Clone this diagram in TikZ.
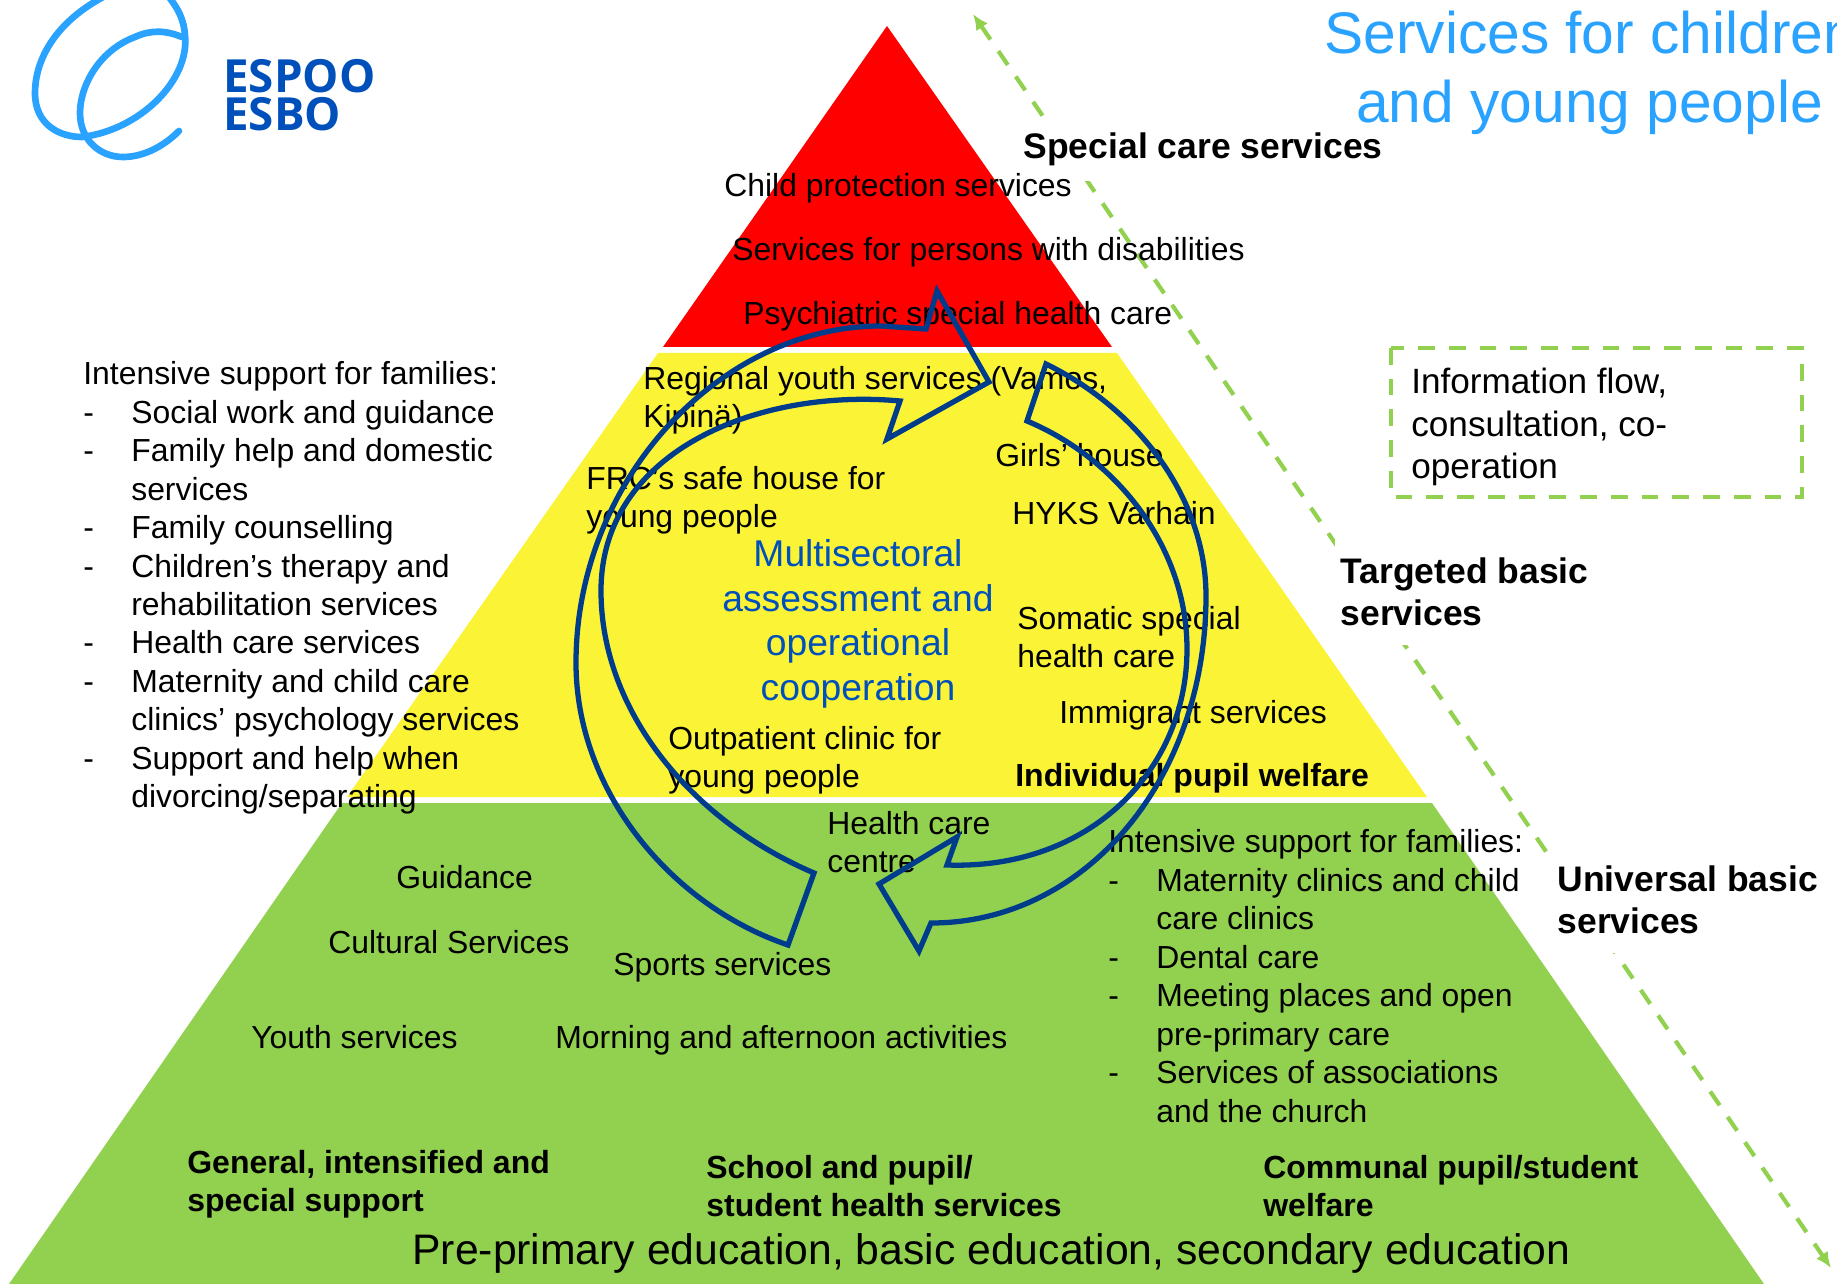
\documentclass[tikz,border=0pt]{standalone}
\usepackage{fontspec}
\setmainfont{Liberation Sans}
\newfontfamily\logofont{Open Sans}
\usetikzlibrary{arrows.meta}
\definecolor{pyrred}{HTML}{FF0000}
\definecolor{pyryellow}{HTML}{FBF335}
\definecolor{pyrgreen}{HTML}{92D050}
\definecolor{cycleblue}{HTML}{003C8C}
\definecolor{textblue}{HTML}{0050BB}
\definecolor{titleblue}{HTML}{2AA2FF}
\newcommand{\dashitem}[1]{\makebox[27.3pt][l]{-}#1}
\newcommand{\dashcont}[1]{\hspace*{27.3pt}#1}
\tikzset{
  lbl/.style={anchor=west,inner sep=0pt,align=left,font=\fontsize{18.15}{21.9}\selectfont},
  lblbold/.style={anchor=west,inner sep=0pt,align=left,font=\fontsize{18.2}{21.9}\selectfont\bfseries},
  tierlbl/.style={anchor=west,inner xsep=3pt,align=left,fill=white,font=\fontsize{20.2}{24}\selectfont\bfseries},
  titlelbl/.style={anchor=west,inner sep=0pt,text=titleblue,font=\fontsize{33.4}{40}\selectfont},
  logolbl/.style={anchor=west,inner sep=0pt,align=left,text=textblue,font=\fontsize{26}{21.6}\logofont\bfseries},
  cycle/.style={draw=cycleblue,line width=3pt,line join=miter},
  greendash/.style={draw=pyrgreen,line width=2.4pt,dash pattern=on 9.5pt off 8pt}
}
\begin{document}
\begin{tikzpicture}[x=0.02cm,y=-0.02cm]
\useasboundingbox (0,0) rectangle (1837,1284);
\clip (0,0) rectangle (1837,1284);
%pyramid
\fill[pyrred] (887,26) -- (1112,347) -- (663,347) -- cycle;
\fill[pyryellow] (658,353) -- (1117,353) -- (1427,797) -- (347,797) -- cycle;
\fill[pyrgreen] (342,803) -- (1432,803) -- (1764,1284) -- (9,1284) -- cycle;
%information flow
\draw[greendash,{Latex[length=9pt,width=8pt]}-{Latex[length=9pt,width=8pt]}] (973,14) -- (1831,1268);
\draw[greendash] (1391,348) rectangle (1802,497);
\node[anchor=west,inner sep=0pt,align=left,font=\fontsize{20}{24.4}\selectfont] (infobox) at (1411,427) {Information flow,\\consultation, co-\\operation};
%tiers
\node[tierlbl,inner ysep=9pt] (tierspecial) at (1018,149) {Special care services};
\node[tierlbl,inner ysep=11pt] (tiertargeted) at (1335,592) {Targeted basic\\services};
\node[tierlbl,inner ysep=11pt] (tieruniversal) at (1552,900) {Universal basic\\services};
%logo
\draw[titleblue,line width=3.8pt,line cap=round] (105,-4) .. controls (50,25) and (35,65) .. (35,93)
  .. controls (35,125) and (60,137) .. (82,137) .. controls (140,130) and (190,80) .. (185,35) .. controls (184,20) and (178,8) .. (168,-4);
\draw[titleblue,line width=3.8pt,line cap=round] (182,37) .. controls (165,30) and (150,30) .. (135,37)
  .. controls (100,50) and (80,85) .. (80,113) .. controls (80,140) and (100,157) .. (123,157) .. controls (145,157) and (165,145) .. (179,131);
\node[logolbl] (logoname) at (223,95) {ESPOO\\ESBO};
%title
\node[titlelbl] (titlea) at (1324,33) {Services for children};
\node[titlelbl] (titleb) at (1356,107) {and young people};
%left list
\node[lbl] (leftlist) at (83,588) {Intensive support for families:\\
\dashitem{Social work and guidance}\\
\dashitem{Family help and domestic}\\
\dashcont{services}\\
\dashitem{Family counselling}\\
\dashitem{Children’s therapy and}\\
\dashcont{rehabilitation services}\\
\dashitem{Health care services}\\
\dashitem{Maternity and child care}\\
\dashcont{clinics’ psychology services}\\
\dashitem{Support and help when}\\
\dashcont{divorcing/separating}};
%red tier
\node[lbl] (childprot) at (724,188) {Child protection services};
\node[lbl] (disab) at (732,252) {Services for persons with disabilities};
\node[lbl] (psych) at (743,316) {Psychiatric special health care};
%yellow tier
\node[lbl] (regional) at (643,400) {Regional youth services (Vamos,\\Kipinä)};
\node[lbl] (safehouse) at (586,500) {FRC’s safe house for\\young people};
\node[lbl] (girls) at (995,455) {Girls’ house};
\node[lbl] (hyks) at (1012,513) {HYKS Varhain};
\node[align=center,inner sep=0pt,text=textblue,font=\fontsize{21.2}{25.4}\selectfont] (assess) at (858,624) {Multisectoral\\assessment and\\operational\\cooperation};
\node[lbl] (somatic) at (1017,637) {Somatic special\\health care};
\node[lbl] (immigrant) at (1059,715) {Immigrant services};
\node[lblbold] (individual) at (1015,778) {Individual pupil welfare};
\node[lbl] (outpatient) at (668,760) {Outpatient clinic for\\young people};
%green tier
\node[lbl] (healthcentre) at (827,842) {Health care\\centre};
\node[lbl] (guidance) at (396,877) {Guidance};
\node[lbl] (cultural) at (328,942) {Cultural Services};
\node[lbl] (sports) at (613,967) {Sports services};
\node[lbl] (youth) at (251,1037) {Youth services};
\node[lbl] (morning) at (555,1040) {Morning and afternoon activities};
\node[lbl] (rightlist) at (1108,976) {Intensive support for families:\\
\dashitem{Maternity clinics and child}\\
\dashcont{care clinics}\\
\dashitem{Dental care}\\
\dashitem{Meeting places and open}\\
\dashcont{pre-primary care}\\
\dashitem{Services of associations}\\
\dashcont{and the church}};
\node[lblbold] (general) at (187,1184) {General, intensified and\\special support};
\node[lblbold] (school) at (706,1186) {School and pupil/\\student health services};
\node[lblbold] (communal) at (1263,1186) {Communal pupil/student\\welfare};
\node[anchor=west,inner sep=0pt,font=\fontsize{24.3}{28}\selectfont] (preprimary) at (412,1253) {Pre-primary education, basic education, secondary education};
%cycle arrows
\draw[cycle] (788,945) .. controls (670,905) and (576,790) .. (576,663)
  .. controls (576,480) and (720,326) .. (881,326) -- (926,329) -- (937,291) -- (989,382) -- (887,439) -- (900,401)
  .. controls (760,388) and (601,450) .. (601,591) .. controls (601,710) and (690,820) .. (814,873) -- cycle;
\draw[cycle] (1046,364) .. controls (1140,410) and (1206,500) .. (1206,596)
  .. controls (1206,780) and (1085,923) .. (931,923) -- (919,951) -- (879,884) -- (957,837) -- (947,865)
  .. controls (1090,870) and (1187,770) .. (1187,649) .. controls (1187,550) and (1120,460) .. (1027,421) -- cycle;
\end{tikzpicture}
\end{document}
